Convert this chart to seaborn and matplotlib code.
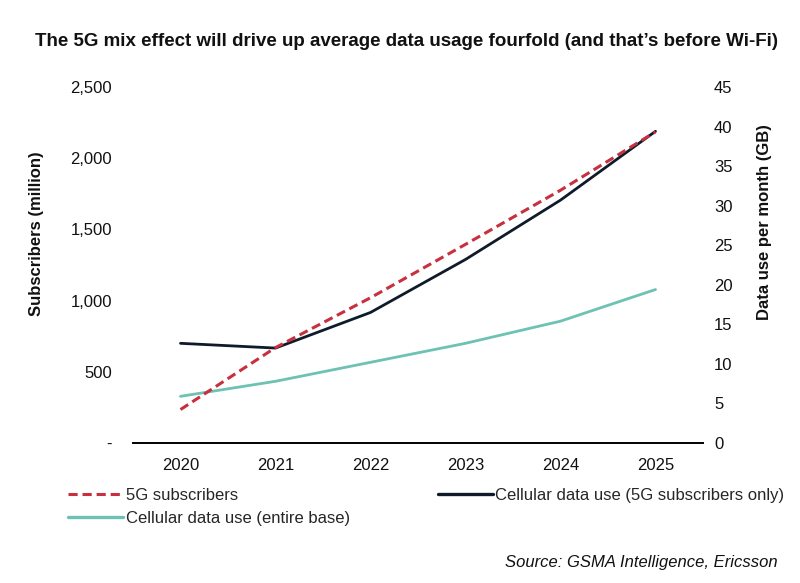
import pandas as pd
import matplotlib
matplotlib.use("Agg")
import matplotlib.pyplot as plt
import seaborn as sns
from matplotlib.lines import Line2D

# --- Data ---
years = ["2020", "2021", "2022", "2023", "2024", "2025"]
subscribers_5g = [235, 670, 1020, 1395, 1775, 2185]          # million, left axis
data_use_5g_only = [12.6, 12.0, 16.5, 23.2, 30.7, 39.4]      # GB/month, right axis
data_use_entire_base = [5.9, 7.8, 10.2, 12.6, 15.4, 19.4]    # GB/month, right axis

left_ticks = [0, 500, 1000, 1500, 2000, 2500]
left_tick_labels = ["-", "500", "1,000", "1,500", "2,000", "2,500"]
right_ticks = [0, 5, 10, 15, 20, 25, 30, 35, 40, 45]

df = pd.DataFrame({
    "year": years,
    "subs": subscribers_5g,
    "use_5g": data_use_5g_only,
    "use_all": data_use_entire_base,
})

# --- Style ---
sns.set_theme(style="white")
plt.rcParams["font.family"] = ["Liberation Sans", "DejaVu Sans"]

RED = "#C8303F"
NAVY = "#0F1B2A"
TEAL = "#6DC2B3"

fig = plt.figure(figsize=(8, 5.83), dpi=100)
ax = fig.add_axes([133 / 800, 1 - 443 / 583, 570 / 800, 356 / 583])
ax2 = ax.twinx()

# --- Lines ---
sns.lineplot(data=df, x="year", y="use_all", ax=ax2, color=TEAL, linewidth=2.0,
             sort=False)
sns.lineplot(data=df, x="year", y="use_5g", ax=ax2, color=NAVY, linewidth=2.0,
             sort=False)
sns.lineplot(data=df, x="year", y="subs", ax=ax, color=RED, linewidth=2.2,
             sort=False)
ax.lines[0].set_linestyle((0, (3, 1.6)))
ax.set_zorder(ax2.get_zorder() + 1)
ax.patch.set_visible(False)

# --- Axes ---
ax.set_xlim(-0.5, len(years) - 0.5)
ax.set_ylim(0, 2500)
ax2.set_ylim(0, 45)
ax.set_yticks(left_ticks)
ax.set_yticklabels(left_tick_labels)
ax2.set_yticks(right_ticks)
ax2.set_yticklabels([str(t) for t in right_ticks])

for a in (ax, ax2):
    for side in ("left", "right", "top", "bottom"):
        a.spines[side].set_visible(False)
    a.set_xlabel("")
    a.set_ylabel("")
    a.grid(False)
ax.spines["bottom"].set_visible(True)
ax.spines["bottom"].set_color("black")
ax.spines["bottom"].set_linewidth(1.4)

ax.tick_params(axis="y", length=0, pad=15, labelsize=12, labelcolor="#111111")
ax.tick_params(axis="x", length=0, pad=11, labelsize=12, labelcolor="#111111")
ax2.tick_params(axis="y", length=0, pad=8, labelsize=12, labelcolor="#111111")

# --- Texts ---
fig.text(0.508, 1 - 41 / 583,
         "The 5G mix effect will drive up average data usage fourfold (and that\u2019s before Wi-Fi)",
         ha="center", va="center", fontsize=13.5, fontweight="bold", color="#111111")
fig.text(37 / 800, 1 - 234 / 583, "Subscribers (million)", rotation=90,
         ha="center", va="center", fontsize=12, fontweight="bold", color="#111111")
fig.text(764 / 800, 1 - 222 / 583, "Data use per month (GB)", rotation=90,
         ha="center", va="center", fontsize=12, fontweight="bold", color="#111111")
fig.text(778 / 800, 1 - 563 / 583, "Source: GSMA Intelligence, Ericsson",
         ha="right", va="center", fontsize=12, style="italic", color="#111111")

# --- Legend ---
handles = [
    Line2D([], [], color=RED, linewidth=2.2, linestyle=(0, (3, 1.6))),
    Line2D([], [], color=TEAL, linewidth=2.4),
    Line2D([], [], color=NAVY, linewidth=2.4),
]
labels = [
    "5G subscribers",
    "Cellular data use (entire base)",
    "Cellular data use (5G subscribers only)",
]
fig.legend(handles, labels, ncol=2, loc="upper left",
           bbox_to_anchor=(68 / 800, 1 - 488 / 583), frameon=False,
           fontsize=12, handlelength=3.3, handletextpad=0.15,
           columnspacing=5.3, borderpad=0, labelspacing=0.45,
           borderaxespad=0)

fig.savefig("out.png", dpi=100)
